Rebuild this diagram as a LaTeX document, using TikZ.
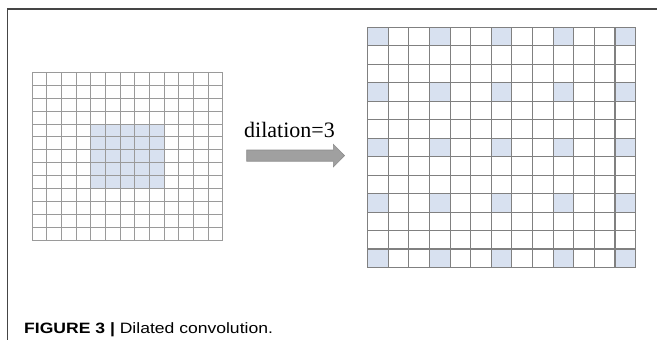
\documentclass[tikz,border=0pt]{standalone}
\usepackage{fontspec}
\setmainfont{Liberation Serif}
\newfontfamily\capfont[FakeStretch=1.17]{Liberation Sans}
\definecolor{cellblue}{HTML}{D8E1F0}
\definecolor{gridgrayA}{HTML}{9A9A9A}
\definecolor{gridgrayB}{HTML}{808080}
\definecolor{framegray}{HTML}{454545}
\definecolor{arrowgray}{HTML}{A0A0A0}
\definecolor{arrowedge}{HTML}{8C8C8C}
\begin{document}
\begin{tikzpicture}[x=1pt,y=-1pt,
  framestyle/.style={draw=framegray,line width=1.3pt},
  gridA/.style={draw=gridgrayA,line width=0.9pt},
  gridB/.style={draw=gridgrayB,line width=1.1pt},
  shade/.style={fill=cellblue},
  bigarrow/.style={fill=arrowgray,draw=arrowedge,line width=0.6pt},
  labeltext/.style={font=\fontsize{22}{26}\selectfont,inner sep=0pt,anchor=base west},
  captext/.style={font=\capfont\fontsize{15}{18}\selectfont,inner sep=0pt,anchor=base west}]
\useasboundingbox (0,0) rectangle (657,340);
\fill[white] (0,0) rectangle (657,340);
% frame
\draw[framestyle] (7.5,340) -- (7.5,9) -- (657,9);
% left grid: 13x13 cells
\begin{scope}[shift={(32.3pt,-72.3pt)},x=14.646pt,y=-12.923pt]
  \fill[shade] (4,4) rectangle (9,9);
  \foreach \k in {0,...,13}{
    \draw[gridA] (\k,0) -- (\k,13);
    \draw[gridA] (0,\k) -- (13,\k);
  }
\end{scope}
% right grid: 13x13 cells, dilated kernel
\begin{scope}[shift={(367.6pt,-27.3pt)},x=20.615pt,y=-18.477pt]
  \foreach \a in {0,3,6,9,12}{
    \foreach \b in {0,3,6,9,12}{
      \fill[shade] (\a,\b) rectangle ++(1,1);
    }
  }
  \foreach \k in {0,...,13}{
    \draw[gridB] (\k,0) -- (\k,13);
    \draw[gridB] (0,\k) -- (13,\k);
  }
\end{scope}
% arrow
\draw[bigarrow] (246.7,150) -- (333.3,150) -- (333.3,144.3) -- (344.5,155.6)
  -- (333.3,167) -- (333.3,161.2) -- (246.7,161.2) -- cycle;
\node[labeltext] (lab) at (244,137) {dilation=3};
% caption
\node[captext] (cap) at (24,333.3) {\textbf{FIGURE 3 |} Dilated convolution.};
\end{tikzpicture}
\end{document}
